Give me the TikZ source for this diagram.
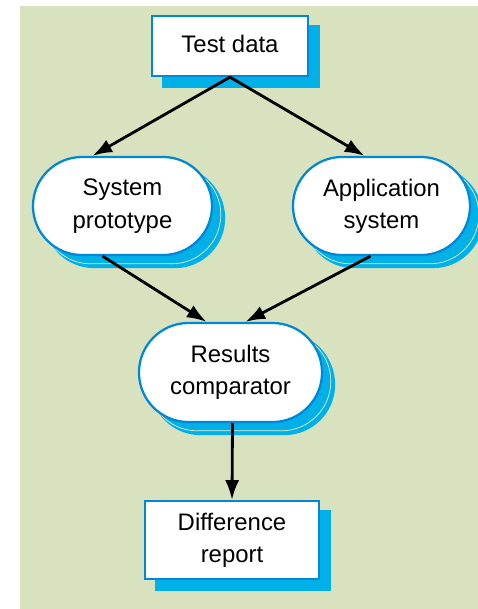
\documentclass[tikz,border=0pt]{standalone}
\usepackage{fontspec}
\setmainfont{Liberation Sans}
\usetikzlibrary{
  arrows.meta,
  calc,
  positioning,
  shadows,
  shapes.misc,
}
\definecolor{bgreen}{RGB}{216, 226, 190}
\definecolor{edgeblue}{RGB}{0, 136, 216}
\definecolor{shadeblue}{RGB}{0, 176, 230}
\definecolor{creamline}{RGB}{236, 236, 206}
\tikzstyle{arrow} = [
  -{Latex[length=14pt, width=10pt]},
  line width=2pt,
  black,
]

\begin{document}
\begin{tikzpicture}[x=0.025cm, y=-0.025cm,
    box/.style={draw=edgeblue, fill=white, line width=1.6pt,
                align=center, font=\fontsize{17}{23}\selectfont,
                general shadow={shadow xshift=0.28cm, shadow yshift=-0.26cm,
                                fill=shadeblue, draw=shadeblue}},
    proc/.style={box, rounded rectangle, inner sep=0pt,
                 general shadow={shadow xshift=0.3cm, shadow yshift=-0.3cm,
                                 fill=shadeblue, draw=shadeblue},
                 general shadow={shadow xshift=0.22cm, shadow yshift=-0.22cm,
                                 draw=creamline, line width=0.5pt}}]
    \useasboundingbox (0,0) rectangle (478,609);
    \fill [bgreen] (20,6) rectangle (478,609);
    % data and the two systems
    \node [box, minimum width=3.9cm, minimum height=1.5cm] (test) at (230,46)
          {\raisebox{0.12cm}{Test data}};
    \node [proc, minimum width=4.475cm, minimum height=2.45cm] (proto)
          at (122.5,206) {System\\prototype};
    \node [proc, minimum width=4.425cm, minimum height=2.45cm] (app)
          at (381.5,206) {Application\\system};
    % comparison
    \node [proc, minimum width=4.575cm, minimum height=2.475cm] (comp)
          at (230.5,372.5) {Results\\comparator};
    \node [box, minimum width=4.35cm, minimum height=1.95cm] (report)
          at (232,540) {Difference\\report};
    \draw [arrow] (test.south) -- ($(proto.north)+(-30,0)$);
    \draw [arrow] (test.south) -- ($(app.north)+(-17,0)$);
    \draw [arrow] ($(proto.south)+(-20,0)$) -- ($(comp.north)+(-24,0)$);
    \draw [arrow] ($(app.south)+(-11,0)$) -- ($(comp.north)+(15,0)$);
    \draw [arrow] ($(comp.south)+(2,0)$) -- (report.north);
\end{tikzpicture}
\end{document}
